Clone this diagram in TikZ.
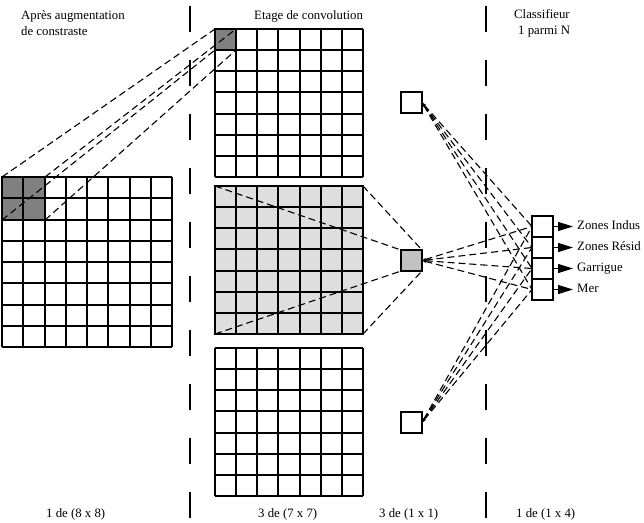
\documentclass[tikz,border=0pt]{standalone}
\usepackage{fontspec}
\setmainfont{Liberation Serif}
\usetikzlibrary{arrows.meta}
\definecolor{dkgray}{gray}{0.5}
\definecolor{ltgray}{gray}{0.87}
\definecolor{mdgray}{gray}{0.76}
\begin{document}
\begin{tikzpicture}[x=1pt,y=-1pt,
  gridl/.style={line width=1.3pt},
  box/.style={draw, line width=1.3pt, inner sep=0pt, outer sep=0pt},
  conn/.style={line width=1.1pt, dash pattern=on 7pt off 4pt},
  sepline/.style={line width=1.5pt, dash pattern=on 26pt off 28pt},
  txt/.style={font=\fontsize{12.8pt}{15pt}\selectfont, inner sep=0pt, anchor=base west},
  lab/.style={font=\fontsize{12.8pt}{15pt}\selectfont, inner xsep=4pt, inner ysep=0pt, anchor=west, text height=9pt, text depth=3pt},
  outarrow/.style={line width=1pt, -{Triangle[length=15pt,width=9pt]}},
  tipin/.style={{Latex[length=4pt,width=3pt]}-}
]
\useasboundingbox (0,0) rectangle (644,522);

% separators
\draw[sepline] (190,6) -- (190,522);
\draw[sepline] (486,6) -- (486,522);

% left grid 8x8
\node[box, fill=dkgray, minimum size=43pt, anchor=north west] (blk) at (2,177) {};
\foreach \p in {2,23,45,66,87,108,130,151,172} {
  \draw[gridl] (\p,177) -- (\p,347);
}
\foreach \p in {177,198,220,241,262,283,305,326,347} {
  \draw[gridl] (2,\p) -- (172,\p);
}

% middle grids 7x7
\node[box, fill=dkgray, minimum size=21pt, anchor=north west] (c1) at (215,29) {};
\node[box, fill=ltgray, minimum size=148pt, anchor=north west] (fm) at (215,186) {};
\foreach \yo in {29,186,348} {
  \foreach \d in {0,21,42,63,85,106,127,148} {
    \draw[gridl] ({215+\d},\yo) -- ({215+\d},{\yo+148});
    \draw[gridl] (215,{\yo+\d}) -- (363,{\yo+\d});
  }
}

% 1x1 maps
\node[box, minimum size=21pt] (s1) at (411.5,102.5) {};
\node[box, fill=mdgray, minimum size=21pt] (s2) at (411.5,260.5) {};
\node[box, minimum size=21pt] (s3) at (411.5,422.5) {};

% output column
\foreach \k/\t in {1/Zones Indus,2/Zones Résid,3/Garrigue,4/Mer} {
  \node[box, minimum width=21pt, minimum height=21pt] (o\k) at (542.5,{226.5+21*(\k-1)}) {};
  \node[lab] (l\k) at ([xshift=20pt]o\k.east) {\t};
  \draw[outarrow] (o\k.east) -- (l\k.west);
}

% connections
\draw[conn] (blk.north west) -- (c1.north west);
\draw[conn] (blk.north east) -- (c1.north east);
\draw[conn] (blk.south west) -- (c1.south west);
\draw[conn] (blk.south east) -- (c1.south east);

\draw[conn] (fm.north west) -- (s2.north west);
\draw[conn] (fm.north east) -- (s2.north east);
\draw[conn] (fm.south west) -- (s2.south west);
\draw[conn] (fm.south east) -- (s2.south east);

\foreach \s in {s1,s2,s3} {
  \foreach \k in {1,...,4} {
    \draw[conn, tipin] (\s.east) -- (o\k.west);
  }
}

% texts
\node[txt] (ta) at (21,19) {Après augmentation};
\node[txt] (tb) at (21,35) {de constraste};
\node[txt] (tc) at (254,19) {Etage de convolution};
\node[txt] (td) at (514,18) {Classifieur};
\node[txt] (te) at (518,34) {1 parmi N};
\node[txt] (tf) at (46,517) {1 de (8 x 8)};
\node[txt] (tg) at (258,517) {3 de (7 x 7)};
\node[txt] (th) at (379,517) {3 de (1 x 1)};
\node[txt] (ti) at (516,517) {1 de (1 x 4)};
\end{tikzpicture}
\end{document}
